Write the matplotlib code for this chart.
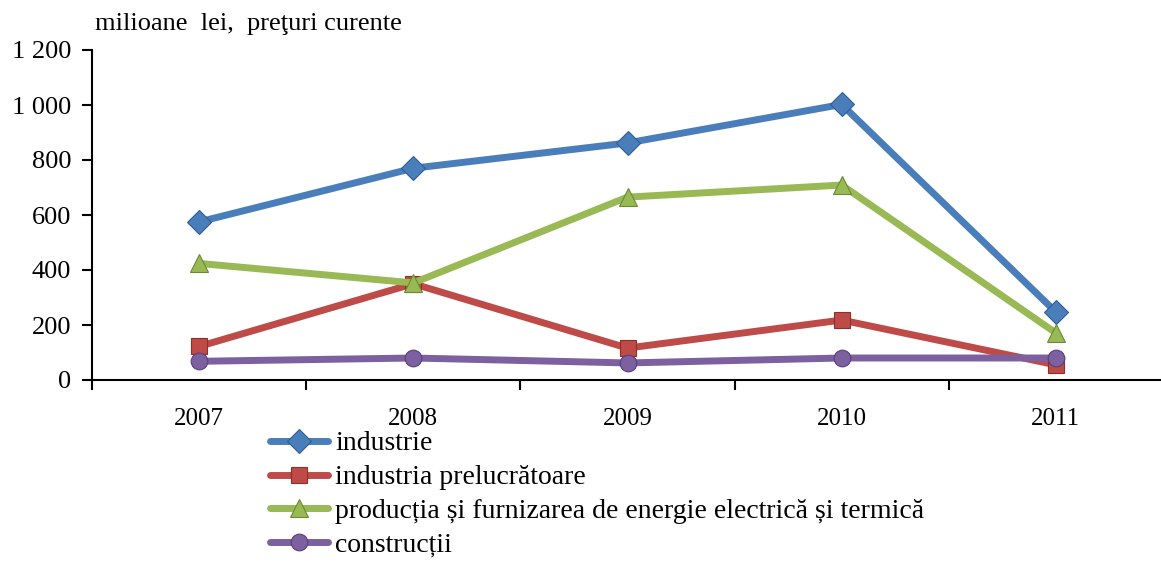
import numpy as np
import matplotlib.pyplot as plt
from matplotlib.ticker import FuncFormatter

plt.rcParams['font.family'] = ['Liberation Serif', 'DejaVu Serif']

# -----------------------------
# DATA
# -----------------------------

years = ["2007", "2008", "2009", "2010", "2011"]

industrie = [575, 770, 862, 1002, 247]
prelucratoare = [122, 350, 116, 218, 55]
energie = [424, 353, 665, 709, 171]
constructii = [68, 80, 62, 80, 80]

labels = [
    "industrie",
    "industria prelucrătoare",
    "producția și furnizarea de energie electrică și termică",
    "construcții",
]

# -----------------------------
# FIGURE
# -----------------------------

fig = plt.figure(figsize=(11.61, 5.63), dpi=100)
ax = fig.add_axes([92/1161, 183/563, 1071/1161, 330/563])

x = np.arange(len(years))

styles = [
    (industrie, "#4A7EBB", "#2F5E96", "D", 12),
    (prelucratoare, "#BE4B48", "#8E2F2C", "s", 11),
    (energie, "#98B954", "#6A8A34", "^", 13),
    (constructii, "#7D60A0", "#56407A", "o", 12),
]

for (vals, col, edge, mk, ms), lab in zip(styles, labels):
    ax.plot(x, vals, color=col, lw=5, marker=mk, ms=ms,
            markerfacecolor=col, markeredgecolor=edge, markeredgewidth=0.8,
            label=lab, solid_capstyle="round")

ax.set_xlim(-0.5, len(years) - 0.5)
ax.set_ylim(0, 1200)
ax.set_yticks(np.arange(0, 1201, 200))
ax.yaxis.set_major_formatter(FuncFormatter(lambda v, p: f"{int(v):,}".replace(",", " ")))

ax.set_xticks(x)
ax.set_xticklabels(years)
ax.set_xticks(np.arange(-0.5, len(years), 1.0), minor=True)
ax.tick_params(axis="x", which="major", length=0, labelsize=18, pad=20)
ax.tick_params(axis="x", which="minor", length=7, width=1.5, direction="out")
ax.tick_params(axis="y", length=7, width=1.5, direction="out", labelsize=19, pad=8)

for s in ["top", "right"]:
    ax.spines[s].set_visible(False)
for s in ["left", "bottom"]:
    ax.spines[s].set_linewidth(1.5)

fig.text(95/1161, 1 - 24/563, "milioane  lei,  preţuri curente",
         fontsize=19, va="center", ha="left")

fig.legend(loc="upper left", bbox_to_anchor=(270/1161, 1 - 431/563),
           frameon=False, fontsize=20, handlelength=2.1, handletextpad=0.25,
           labelspacing=0.3, borderaxespad=0, borderpad=0)

fig.savefig("out.png", dpi=100)
